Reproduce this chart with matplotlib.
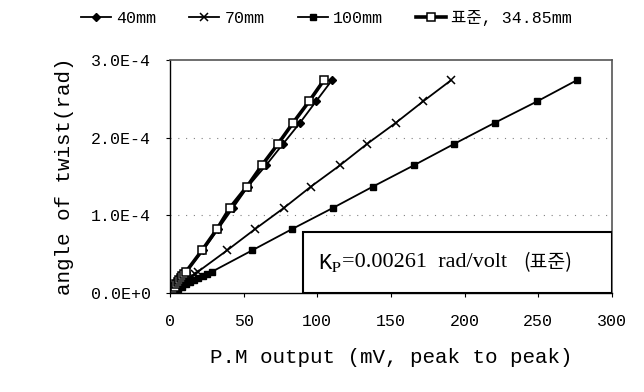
import matplotlib.pyplot as plt
from matplotlib.patches import Rectangle

plt.rcParams['font.family'] = ['Liberation Mono', 'Noto Sans CJK KR']
plt.rcParams['mathtext.fontset'] = 'stix'

# angle of twist (rad), same steps for every series
angle = [0.0, 2.7e-6, 5.5e-6, 8.2e-6, 1.10e-5, 1.37e-5, 1.64e-5, 1.92e-5, 2.19e-5, 2.47e-5,
         2.74e-5, 5.48e-5, 8.22e-5, 1.096e-4, 1.37e-4, 1.644e-4, 1.918e-4, 2.192e-4, 2.466e-4, 2.74e-4]

# P.M output (mV, peak to peak)
mv_40 = [0.0, 1.1, 2.2, 3.3, 4.4, 5.5, 6.6, 7.7, 8.8, 9.9,
         11.0, 22.4, 32.6, 42.8, 52.9, 65.2, 76.7, 88.3, 99.1, 110.0]
mv_70 = [0.0, 1.9, 3.8, 5.7, 7.6, 9.5, 11.4, 13.3, 15.2, 17.1,
         19.0, 38.7, 57.7, 77.4, 95.7, 115.4, 133.7, 153.4, 171.8, 190.9]
mv_100 = [0.0, 2.8, 5.5, 8.3, 11.0, 13.8, 16.6, 19.3, 22.1, 24.8,
          28.5, 55.7, 82.8, 110.7, 137.8, 165.6, 192.8, 220.6, 249.2, 276.3]
mv_std = [0.0, 1.05, 2.1, 3.15, 4.2, 5.25, 6.3, 7.35, 8.4, 9.45,
          10.9, 21.7, 31.9, 40.7, 52.3, 62.4, 73.3, 83.6, 94.4, 104.5]

labels = ['40mm', '70mm', '100mm', '표준, 34.85mm']
yticks = [0, 1e-4, 2e-4, 3e-4]
ytick_labels = ['0.0E+0', '1.0E-4', '2.0E-4', '3.0E-4']
xticks = [0, 50, 100, 150, 200, 250, 300]

fig = plt.figure(figsize=(6.44, 3.92), dpi=100)
ax = fig.add_axes([0.264, 0.2526, 0.686, 0.5944])

ax.plot(mv_40, angle, '-', color='black', lw=1.3, marker='D', ms=4, label=labels[0])
ax.plot(mv_70, angle, '-', color='black', lw=1.3, marker='x', ms=5.5, mew=1.1, label=labels[1])
ax.plot(mv_100, angle, '-', color='black', lw=1.3, marker='s', ms=4.5, label=labels[2])
ax.plot(mv_std, angle, '-', color='black', lw=2.6, marker='s', ms=5.5,
        mfc='white', mec='black', mew=1.1, label=labels[3])

ax.set_xlim(0, 300)
ax.set_ylim(0, 3e-4)
ax.set_xticks(xticks)
ax.set_yticks(yticks)
ax.set_yticklabels(ytick_labels)
ax.tick_params(axis='both', labelsize=12, length=3, direction='out')
ax.tick_params(axis='y', pad=11)
ax.tick_params(axis='x', pad=12)

for y in [1e-4, 2e-4]:
    ax.axhline(y, color='gray', lw=0.8, ls=(0, (1, 6)), zorder=0)

for s in ['top', 'right']:
    ax.spines[s].set_color('#555555')
    ax.spines[s].set_linewidth(1.2)
for s in ['left', 'bottom']:
    ax.spines[s].set_linewidth(1.0)

ax.set_xlabel('P.M output (mV, peak to peak)', fontsize=15, labelpad=14)
ax.set_ylabel('angle of twist(rad)', fontsize=15, labelpad=12)

# K_P box in lower right
box = Rectangle((0.301, 0.0), 0.699, 0.262, transform=ax.transAxes,
                facecolor='white', edgecolor='black', lw=1.5, zorder=5)
ax.add_patch(box)
ax.text(0.39, 0.13, 'K$_{\\mathrm{P}}$', transform=ax.transAxes,
        ha='right', va='center', fontsize=16, zorder=6)
ax.text(0.39, 0.13, '=0.00261  rad/volt', transform=ax.transAxes,
        ha='left', va='center', fontsize=16, zorder=6, family='Liberation Serif')
ax.text(0.80, 0.13, '(표준)', transform=ax.transAxes,
        ha='left', va='center', fontsize=14, zorder=6, family='Noto Sans CJK KR')

fig.legend(loc='center', bbox_to_anchor=(0.507, 0.955), ncol=4, frameon=False,
           fontsize=12, handlelength=1.8, handletextpad=0.3, columnspacing=2.0)

fig.savefig('out.png', dpi=100)
